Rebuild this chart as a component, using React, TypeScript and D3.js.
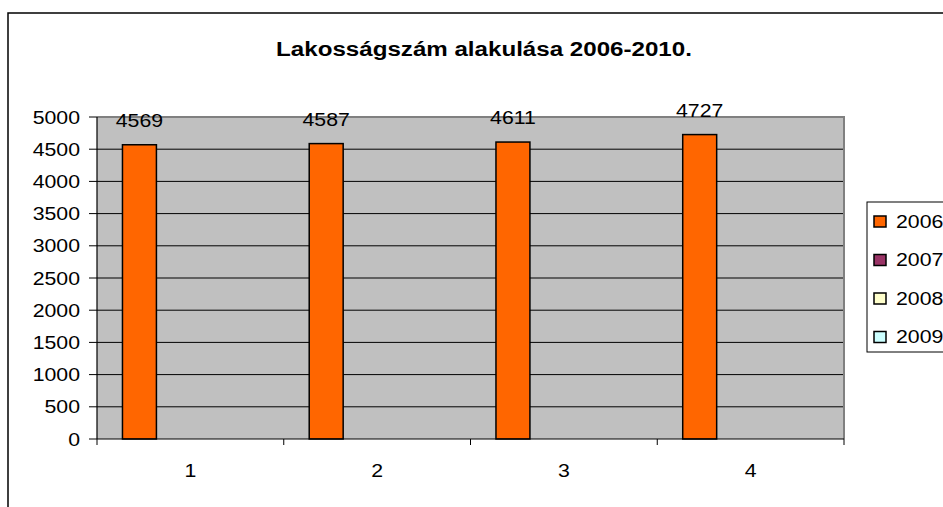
import * as d3 from 'd3'

// chart values
const categories = ['1', '2', '3', '4']
const seriesNames = ['2006', '2007', '2008', '2009']
const values2006 = [4569, 4587, 4611, 4727]
const values2007: number[] = []
const values2008: number[] = []
const values2009: number[] = []
const seriesColors = ['#FF6600', '#993366', '#FFFFCC', '#CCFFFF']
const title = 'Lakosságszám alakulása 2006-2010.'

const W = 943
const H = 507
const plot = { left: 97, right: 844, top: 117, bottom: 439 }
const sx = 1.15 // the reference text is a bit stretched sideways
const font = 'Liberation Sans, Arial, sans-serif'
const fs = 18.5

function Txt({ x, y, size, anchor = 'start', bold = false, children }: any) {
	return (
		<text
			transform={`translate(${x},${y}) scale(${sx},1)`}
			fontSize={size}
			fontFamily={font}
			fontWeight={bold ? 'bold' : 'normal'}
			textAnchor={anchor}
			fill="#000"
		>
			{children}
		</text>
	)
}

export default function App() {
	const allSeries = [values2006, values2007, values2008, values2009]

	const x0 = d3.scaleBand().domain(categories).range([plot.left, plot.right]).padding(0)
	const x1 = d3.scaleBand().domain(seriesNames).range([0, x0.bandwidth()]).paddingInner(0).paddingOuter(0.75)
	const y = d3.scaleLinear().domain([0, 5000]).range([plot.bottom, plot.top])
	const yTicks = y.ticks(10)

	const bounds = d3.range(categories.length + 1).map(i => plot.left + i * x0.step())

	return (
		<div style={{ position: 'fixed', left: 0, top: 0 }}>
			<svg width={W} height={H} viewBox={`0 0 ${W} ${H}`} style={{ display: 'block', background: '#fff' }}>
				{/* chart border */}
				<rect x={8} y={13} width={1000} height={600} fill="none" stroke="#000" strokeWidth={1.5} />

				<Txt x={484} y={56} size={21} anchor="middle" bold>{title}</Txt>

				{/* plot area */}
				<rect x={plot.left} y={plot.top} width={plot.right - plot.left} height={plot.bottom - plot.top} fill="#C0C0C0" />
				{yTicks.filter(t => t > 0 && t < 5000).map(t => (
					<line key={t} x1={plot.left} x2={plot.right} y1={y(t)} y2={y(t)} stroke="#000" strokeWidth={1} />
				))}
				<polyline points={`${plot.left},${plot.top} ${plot.right},${plot.top} ${plot.right},${plot.bottom}`} fill="none" stroke="#808080" strokeWidth={2} />

				{/* bars */}
				{allSeries.map((vals, si) =>
					vals.map((v, ci) => (
						<rect
							key={`${si}-${ci}`}
							x={(x0(categories[ci]) as number) + (x1(seriesNames[si]) as number)}
							y={y(v)}
							width={x1.bandwidth()}
							height={plot.bottom - y(v)}
							fill={seriesColors[si]}
							stroke="#000"
							strokeWidth={1.5}
						/>
					))
				)}
				{allSeries.map((vals, si) =>
					vals.map((v, ci) => (
						<Txt
							key={`l${si}-${ci}`}
							x={(x0(categories[ci]) as number) + (x1(seriesNames[si]) as number) + x1.bandwidth() / 2}
							y={y(v) - 18}
							size={fs}
							anchor="middle"
						>
							{v}
						</Txt>
					))
				)}

				{/* y axis */}
				<line x1={plot.left} x2={plot.left} y1={plot.top} y2={plot.bottom} stroke="#000" strokeWidth={1.2} />
				{yTicks.map(t => (
					<g key={t}>
						<line x1={plot.left - 8} x2={plot.left} y1={y(t)} y2={y(t)} stroke="#000" strokeWidth={1} />
						<Txt x={80} y={y(t) + 6.5} size={fs} anchor="end">{t}</Txt>
					</g>
				))}

				{/* x axis */}
				<line x1={plot.left} x2={plot.right} y1={plot.bottom} y2={plot.bottom} stroke="#000" strokeWidth={1.2} />
				{bounds.map((b, i) => (
					<line key={i} x1={b} x2={b} y1={plot.bottom} y2={plot.bottom + 6} stroke="#000" strokeWidth={1} />
				))}
				{categories.map(c => (
					<Txt key={c} x={(x0(c) as number) + x0.bandwidth() / 2} y={477} size={fs} anchor="middle">{c}</Txt>
				))}

				{/* legend */}
				<rect x={867} y={202} width={200} height={150} fill="#fff" stroke="#000" strokeWidth={1} />
				{seriesNames.map((s, i) => (
					<g key={s}>
						<rect x={874} y={216 + i * 38.5} width={12} height={11} fill={seriesColors[i]} stroke="#000" strokeWidth={1.5} />
						<Txt x={896} y={227.5 + i * 38.5} size={fs}>{s}</Txt>
					</g>
				))}
			</svg>
		</div>
	)
}
